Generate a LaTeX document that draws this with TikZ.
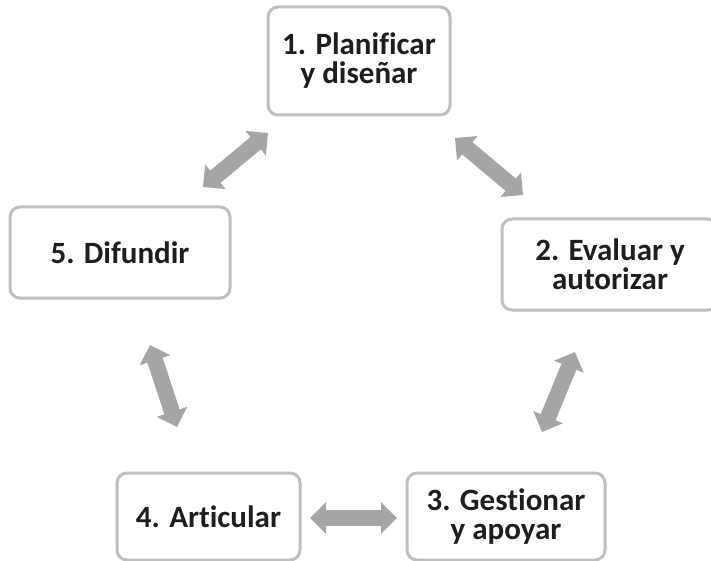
\documentclass[tikz,border=0pt]{standalone}
\usepackage{fontspec}
\setmainfont{Carlito}[Ligatures=NoCommon]
\usetikzlibrary{arrows.meta}
\definecolor{boxline}{HTML}{BFBFBF}
\definecolor{arrowgray}{HTML}{A5A5A5}
\definecolor{txt}{HTML}{1E1E1E}
\begin{document}
\begin{tikzpicture}[x=1pt,y=-1pt,
  stagebox/.style={draw=boxline, line width=3pt, rounded corners=10pt, fill=white,
    align=center, text=txt, font=\fontsize{31}{29}\selectfont\bfseries, inner sep=0pt},
  dblarrow/.style={draw=arrowgray, line width=16pt,
    {Triangle[width=31pt,length=16pt]}-{Triangle[width=31pt,length=16pt]}}]
\useasboundingbox (0,0) rectangle (711,561);
\clip (0,0) rectangle (711,561);
\node[stagebox, minimum width=182pt, minimum height=108pt] (n1) at (359,61) {1. Planificar\\y diseñar};
\node[stagebox, minimum width=216pt, minimum height=91pt] (n2) at (610,264.5) {2. Evaluar y\\autorizar};
\node[stagebox, minimum width=198pt, minimum height=87pt] (n3) at (506,516.5) {3. Gestionar\\y apoyar};
\node[stagebox, minimum width=183pt, minimum height=87pt] (n4) at (208.5,516.5) {4. Articular};
\node[stagebox, minimum width=220pt, minimum height=91pt] (n5) at (120,252.5) {5. Difundir};
\coordinate (a15) at (203,187);
\coordinate (a51) at (268,133);
\coordinate (a12) at (455,138);
\coordinate (a21) at (523,195);
\coordinate (a54) at (150,345);
\coordinate (a45) at (177,427);
\coordinate (a23) at (575,352);
\coordinate (a32) at (542,432);
\coordinate (a43) at (310,518);
\coordinate (a34) at (397,518);
\draw[dblarrow] (a15) -- (a51);
\draw[dblarrow] (a12) -- (a21);
\draw[dblarrow] (a54) -- (a45);
\draw[dblarrow] (a23) -- (a32);
\draw[dblarrow] (a43) -- (a34);
\end{tikzpicture}
\end{document}
